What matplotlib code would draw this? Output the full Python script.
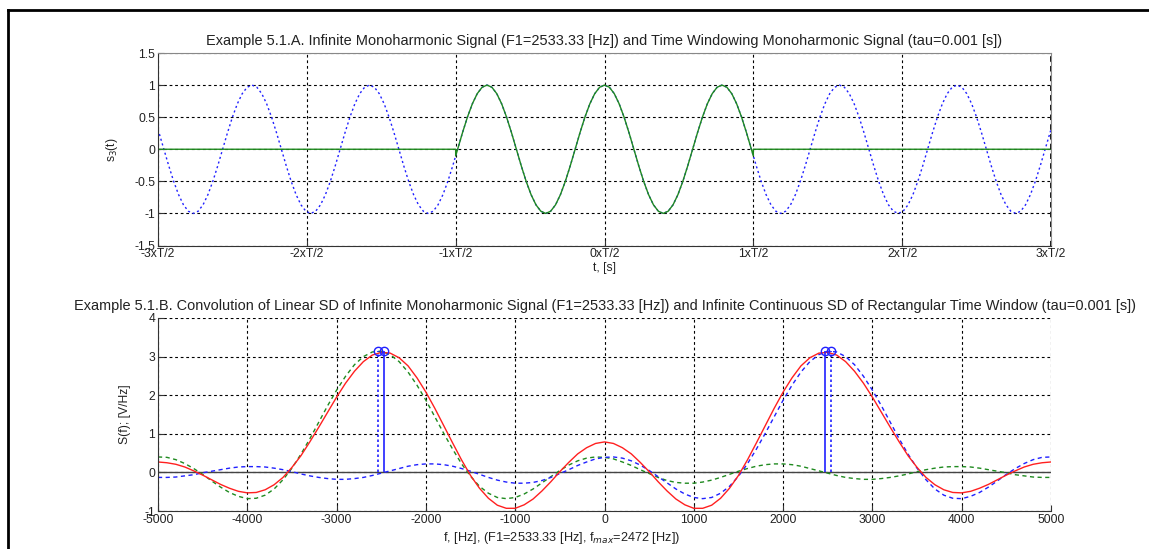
import matplotlib
matplotlib.use("Agg")
import matplotlib.pyplot as plt
from matplotlib.lines import Line2D
import numpy as np

plt.rcParams['font.family'] = ['Liberation Sans', 'DejaVu Sans']
plt.rcParams['font.size'] = 8.7
plt.rcParams['axes.unicode_minus'] = False

F1 = 2533.33      # [Hz]
F_MAX = 2472      # [Hz]
TAU = 0.001       # [s]

# ---- top panel: s3(t), sampled every 15 degrees of phase ----
t_ticks = [-0.0015, -0.001, -0.0005, 0, 0.0005, 0.001, 0.0015]
t_tick_labels = ['-3xT/2', '-2xT/2', '-1xT/2', '0xT/2', '1xT/2', '2xT/2', '3xT/2']

period = [1, 0.966, 0.866, 0.707, 0.5, 0.259, 0, -0.259, -0.5, -0.707, -0.866, -0.966,
          -1, -0.966, -0.866, -0.707, -0.5, -0.259, 0, 0.259, 0.5, 0.707, 0.866, 0.966]

s3_infinite = ([0.309,
                0.259, 0, -0.259, -0.5, -0.707, -0.866, -0.966, -1, -0.966, -0.866, -0.707,
                -0.5, -0.259, 0, 0.259, 0.5, 0.707, 0.866, 0.966]
               + period * 6
               + [1, 0.966, 0.866, 0.707, 0.5, 0.259, 0, -0.259, -0.5, -0.707, -0.866, -0.966,
                  -1, -0.966, -0.866, -0.707, -0.5, -0.259, 0, 0.259,
                  0.309])

s3_window = ([0, 0, -0.105,
              0, 0.259, 0.5, 0.707, 0.866, 0.966]
             + period * 2
             + [1, 0.966, 0.866, 0.707, 0.5, 0.259, 0,
                -0.105, 0, 0])

step = 1 / (24 * F1)  # 15 deg of phase
t_inf = [-0.0015] + list(np.arange(-91, 92) * step) + [0.0015]
t_win = [-0.0015, -TAU / 2, -TAU / 2] + list(np.arange(-30, 31) * step) + [TAU / 2, TAU / 2, 0.0015]

# ---- bottom panel: spectra on a 100 Hz grid from -5000 to 5000 ----
freq = np.arange(-5000, 5001, 100)

sd_conv = [0.27, 0.25, 0.21, 0.14, 0.04, -0.07, -0.19, -0.31, -0.41, -0.49,
           -0.53, -0.52, -0.45, -0.32, -0.13, 0.13, 0.43, 0.79, 1.17, 1.56,
           1.95, 2.31, 2.62, 2.87, 3.04, 3.11, 3.09, 2.97, 2.76, 2.45,
           2.08, 1.66, 1.21, 0.76, 0.32, -0.08, -0.41, -0.67, -0.85, -0.93,
           -0.93, -0.84, -0.69, -0.48, -0.24, 0.02, 0.26, 0.48, 0.64, 0.75,
           0.79,
           0.75, 0.64, 0.48, 0.26, 0.02, -0.24, -0.48, -0.69, -0.84, -0.93,
           -0.93, -0.85, -0.67, -0.41, -0.08, 0.32, 0.76, 1.21, 1.66, 2.08,
           2.45, 2.76, 2.97, 3.09, 3.11, 3.04, 2.87, 2.62, 2.31, 1.95,
           1.56, 1.17, 0.79, 0.43, 0.13, -0.13, -0.32, -0.45, -0.52, -0.53,
           -0.49, -0.41, -0.31, -0.19, -0.07, 0.04, 0.14, 0.21, 0.25, 0.27]

sd_neg = [0.40, 0.39, 0.33, 0.23, 0.10, -0.05, -0.22, -0.38, -0.52, -0.62,
          -0.68, -0.67, -0.59, -0.43, -0.19, 0.11, 0.47, 0.87, 1.30, 1.73,
          2.13, 2.49, 2.79, 3.00, 3.12, 3.14, 3.05, 2.87, 2.60, 2.26,
          1.87, 1.44, 1.01, 0.60, 0.22, -0.10, -0.36, -0.54, -0.65, -0.68,
          -0.65, -0.56, -0.43, -0.27, -0.11, 0.05, 0.19, 0.30, 0.37, 0.40,
          0.39,
          0.35, 0.27, 0.18, 0.07, -0.03, -0.13, -0.21, -0.26, -0.28, -0.28,
          -0.25, -0.20, -0.13, -0.05, 0.03, 0.10, 0.16, 0.20, 0.22, 0.22,
          0.20, 0.16, 0.10, 0.04, -0.02, -0.08, -0.13, -0.16, -0.18, -0.18,
          -0.16, -0.13, -0.09, -0.04, 0.02, 0.07, 0.11, 0.14, 0.15, 0.15,
          0.14, 0.11, 0.07, 0.03, -0.01, -0.06, -0.09, -0.12, -0.13, -0.13]

sd_pos = [-0.13, -0.13, -0.12, -0.09, -0.06, -0.01, 0.03, 0.07, 0.11, 0.14,
          0.15, 0.15, 0.14, 0.11, 0.07, 0.02, -0.04, -0.09, -0.13, -0.16,
          -0.18, -0.18, -0.16, -0.13, -0.08, -0.02, 0.04, 0.10, 0.16, 0.20,
          0.22, 0.22, 0.20, 0.16, 0.10, 0.03, -0.05, -0.13, -0.20, -0.25,
          -0.28, -0.28, -0.26, -0.21, -0.13, -0.03, 0.07, 0.18, 0.27, 0.35,
          0.39,
          0.40, 0.37, 0.30, 0.19, 0.05, -0.11, -0.27, -0.43, -0.56, -0.65,
          -0.68, -0.65, -0.54, -0.36, -0.10, 0.22, 0.60, 1.01, 1.44, 1.87,
          2.26, 2.60, 2.87, 3.05, 3.14, 3.12, 3.00, 2.79, 2.49, 2.13,
          1.73, 1.30, 0.87, 0.47, 0.11, -0.19, -0.43, -0.59, -0.67, -0.68,
          -0.62, -0.52, -0.38, -0.22, -0.05, 0.10, 0.23, 0.33, 0.39, 0.40]

stem_f_true = [-F1, F1]
stem_f_max = [-F_MAX, F_MAX]
stem_amp = [3.14, 3.14]

W, H = 1149, 549
fig = plt.figure(figsize=(W / 100, H / 100), dpi=100)
fig.patch.set_facecolor('white')

# page frame (left and top)
fig.add_artist(Line2D([8 / W, 8 / W], [0, 1 - 10 / H], color='k', lw=2, transform=fig.transFigure))
fig.add_artist(Line2D([8 / W, 1], [1 - 10 / H, 1 - 10 / H], color='k', lw=2, transform=fig.transFigure))

grid_kw = dict(color='k', linestyle=(0, (2.5, 2.5)), linewidth=0.8)
txt_col = '#222222'


def style_axes(ax):
    ax.tick_params(direction='in', length=4, width=0.8, colors='#333333',
                   labelcolor=txt_col, pad=2)
    ax.grid(True, **grid_kw)
    for s in ['left', 'bottom']:
        ax.spines[s].set_color('#333333')
    for s in ['top', 'right']:
        ax.spines[s].set_color('#888888')


# ---- top ----
ax1 = fig.add_axes([158 / W, 1 - 245.5 / H, 893 / W, 192.5 / H])
ax1.plot(t_inf, s3_infinite, color='#2020ff', linestyle=(0, (1.5, 2)), linewidth=1)
ax1.plot(t_win, s3_window, color='#1f8a1f', linewidth=1)
ax1.axvline(0.0015, color='k', linestyle=(0, (2, 1.5)), linewidth=2)
ax1.set_xlim(-0.0015, 0.0015)
ax1.set_ylim(-1.5, 1.5)
ax1.set_xticks(t_ticks)
ax1.set_xticklabels(t_tick_labels)
ax1.set_yticks([-1.5, -1, -0.5, 0, 0.5, 1, 1.5])
ax1.set_yticklabels(['-1.5', '-1', '-0.5', '0', '0.5', '1', '1.5'])
style_axes(ax1)
ax1.set_title('Example 5.1.A. Infinite Monoharmonic Signal (F1=2533.33 [Hz]) and '
              'Time Windowing Monoharmonic Signal (tau=0.001 [s])', color=txt_col, pad=6)
ax1.set_xlabel('t, [s]', color=txt_col, labelpad=1)
ax1.set_ylabel('s$_3$(t)', color=txt_col, labelpad=10)

# ---- bottom ----
ax2 = fig.add_axes([158 / W, 1 - 511 / H, 893 / W, 193 / H])
ax2.axhline(0, color='#444444', linewidth=1)
ax2.plot(freq, sd_neg, color='#1f8a1f', linestyle=(0, (3, 2.5)), linewidth=1)
ax2.plot(freq, sd_pos, color='#2020ff', linestyle=(0, (3, 2.5)), linewidth=1)
ax2.plot(freq, sd_conv, color='#ff2020', linewidth=1)
ax2.vlines(stem_f_true, 0, stem_amp, color='#2020ff', linestyle=(0, (1.5, 1.5)), linewidth=1.2)
ax2.vlines(stem_f_max, 0, stem_amp, color='#2020ff', linewidth=1.2)
ax2.plot(stem_f_true, stem_amp, 'o', mfc='none', mec='#2020ff', ms=6, mew=1)
ax2.plot(stem_f_max, stem_amp, 'o', mfc='none', mec='#2020ff', ms=6, mew=1)
ax2.set_xlim(-5000, 5000)
ax2.set_ylim(-1, 4)
ax2.set_xticks(range(-5000, 5001, 1000))
ax2.set_yticks(range(-1, 5))
style_axes(ax2)
ax2.spines['top'].set_visible(False)
ax2.spines['right'].set_visible(False)
ax2.set_title('Example 5.1.B. Convolution of Linear SD of Infinite Monoharmonic Signal '
              '(F1=2533.33 [Hz]) and Infinite Continuous SD of Rectangular Time Window '
              '(tau=0.001 [s])', color=txt_col, pad=6)
ax2.set_xlabel('f, [Hz], (F1=2533.33 [Hz], f$_{max}$=2472 [Hz])', color=txt_col,
               fontsize=9.2, labelpad=1)
ax2.xaxis.set_label_coords(0.452, -0.10)
ax2.set_ylabel('S(f); [V/Hz]', color=txt_col, labelpad=10)

fig.savefig('out.png', dpi=100, facecolor='white')
